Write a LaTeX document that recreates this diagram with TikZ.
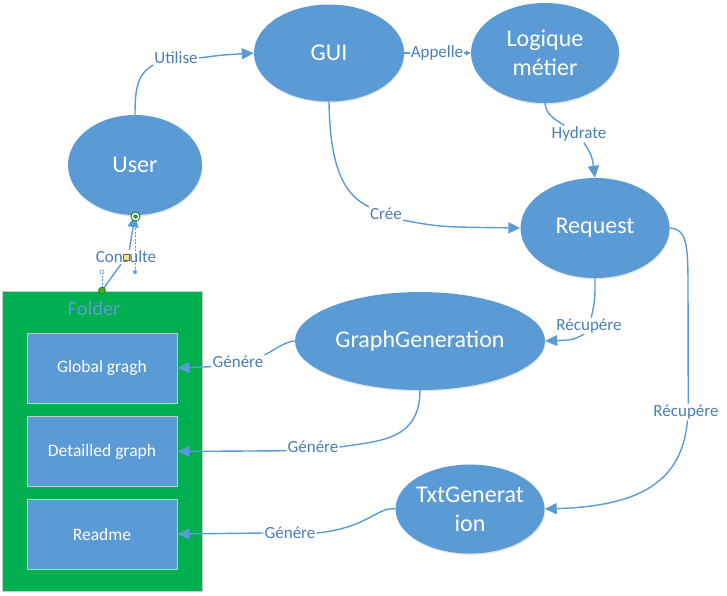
\documentclass[tikz,border=0pt]{standalone}
\usepackage{fontspec}
\setmainfont{Carlito}
\usetikzlibrary{shapes.geometric,arrows.meta,shadows}
\definecolor{nodeblue}{HTML}{5B9BD5}
\definecolor{lineblue}{HTML}{5B9BD5}
\definecolor{labelblue}{HTML}{4A7EBB}
\definecolor{foldergreen}{HTML}{00B050}
\definecolor{boxborder}{HTML}{C9C9C9}
\definecolor{handlegreen}{HTML}{1E9E2E}
\begin{document}
\begin{tikzpicture}[x=1pt,y=-1pt,
  ell/.style={ellipse, fill=nodeblue, draw=none, text=white, inner sep=-6pt, align=center,
    font=\fontsize{24}{29}\selectfont,
    drop shadow={fill=black!45, opacity=0.25, shadow xshift=0.6pt, shadow yshift=-1.4pt}},
  innerbox/.style={rectangle, fill=nodeblue, draw=boxborder, line width=0.8pt, text=white,
    minimum width=150pt, minimum height=70pt, inner sep=0pt, font=\fontsize{17.5}{20}\selectfont},
  folderbox/.style={rectangle, fill=foldergreen, draw=boxborder, line width=0.8pt,
    minimum width=200pt, minimum height=300pt, inner sep=0pt},
  lbl/.style={fill=white, text=labelblue, inner sep=1pt, font=\fontsize{17}{19}\selectfont},
  conn/.style={draw=lineblue, line width=1.4pt},
  arr/.style={-{Triangle[length=12pt,width=11pt]}},
  smallarr/.style={-{Triangle[length=5pt,width=5pt]}},
  dashline/.style={draw=lineblue, line width=0.8pt, dash pattern=on 2pt off 1.5pt},
]
\useasboundingbox (0,0) rectangle (727,595);

% ellipses
\node[ell, minimum width=134pt, minimum height=100pt] (user) at (135,165) {User};
\node[ell, minimum width=150pt, minimum height=97pt] (gui) at (329,53) {GUI};
\node[ell, minimum width=148pt, minimum height=100pt] (logic) at (545,53) {Logique\\métier};
\node[ell, minimum width=149pt, minimum height=100pt] (request) at (595,228) {Request};
\node[ell, minimum width=250pt, minimum height=98pt] (gg) at (420,341) {GraphGeneration};
\node[ell, minimum width=149pt, minimum height=89pt] (txt) at (470,509) {TxtGenerat\\ion};

% folder
\node[folderbox] (folder) at (102,441) {};
\node[text=nodeblue, inner sep=0pt, font=\fontsize{20.5}{22}\selectfont] (folderlbl) at (94,308) {Folder};
\node[innerbox] (global) at (102,368) {Global gragh};
\node[innerbox] (detail) at (102,451.5) {Detailled graph};
\node[innerbox] (readme) at (102,534) {Readme};

% labels
\node[lbl] (lU) at (176,58) {Utilise};
\node[lbl] (lA) at (437,53) {Appelle};
\node[lbl] (lH) at (579,134) {Hydrate};
\node[lbl] (lC) at (386,214) {Crée};
\node[lbl] (lR1) at (589,326) {Récupére};
\node[lbl] (lR2) at (686,412) {Récupére};
\node[lbl] (lG1) at (238,362) {Génére};
\node[lbl] (lG2) at (313,447) {Génére};
\node[lbl] (lG3) at (290,533) {Génére};
\node[lbl] (lCo) at (126,257) {Consulte};

% connectors
\draw[conn] (user.north) .. controls (135,90) and (137,74) .. (lU.south west);
\draw[conn,arr] (lU.east) .. controls (222,55) .. (gui.west);

\draw[conn] (gui.east) -- (lA.west);
\draw[conn,smallarr] (lA.east) -- (logic.west);

\draw[conn] (logic.south) .. controls (546,115) and (555,119) .. (lH.150);
\draw[conn,arr] (lH.-60) .. controls (592,156) .. (request.north);

\draw[conn] (gui.south) .. controls (330,170) and (345,195) .. (lC.north west);
\draw[conn,arr] (lC.-20) .. controls (440,227) .. (request.west);

\draw[conn] (request.south) .. controls (595,300) .. (lR1.75);
\draw[conn,arr] (lR1.-120) .. controls (572,340) .. (gg.east);

\draw[conn] (request.east) .. controls (686,229) and (688,242) .. (688,285) -- (lR2.75);
\draw[conn,arr] (lR2.-80) .. controls (682,482) and (640,506) .. (txt.east);

\draw[conn] (gg.west) .. controls (284,342) and (278,348) .. (lG1.north east);
\draw[conn,arr] (lG1.-170) -- (global.east);

\draw[conn] (gg.south) .. controls (420,440) and (380,441) .. (lG2.east);
\draw[conn,arr] (lG2.-172) -- (detail.east);

\draw[conn] (txt.west) .. controls (378,506) and (368,528) .. (lG3.east);
\draw[conn,arr] (lG3.west) -- (readme.east);

% Consulte connector and its selection handles
\coordinate (hA) at (102,272);
\coordinate (hB) at (135,272);
\draw[dashline] (hA) -- (folder.north);
\draw[dashline] (hB) -- (user.south);
\draw[conn] (folder.north) -- (lCo.-125);
\draw[conn,arr] (lCo.65) -- (user.south);
\node[circle, draw=lineblue, fill=white, line width=0.6pt, inner sep=0pt, minimum size=4pt] (hAdot) at (hA) {};
\node[circle, fill=lineblue, inner sep=0pt, minimum size=4pt] (hBdot) at (hB) {};
\node[circle, fill=handlegreen!80!lime, draw=handlegreen!70!black, line width=0.6pt, inner sep=0pt, minimum size=7pt] (startdot) at (folder.north) {};
\node[circle, fill=white, draw=handlegreen!70!black, line width=0.8pt, inner sep=0pt, minimum size=9pt] (endring) at (135.5,216.5) {};
\node[circle, fill=handlegreen, inner sep=0pt, minimum size=4.5pt] (enddot) at (endring) {};
\node[rectangle, fill=yellow!50!orange!40, draw=orange!70!black, line width=0.5pt, inner sep=0pt, minimum size=5.5pt] (midsq) at (lCo) {};
\end{tikzpicture}
\end{document}
